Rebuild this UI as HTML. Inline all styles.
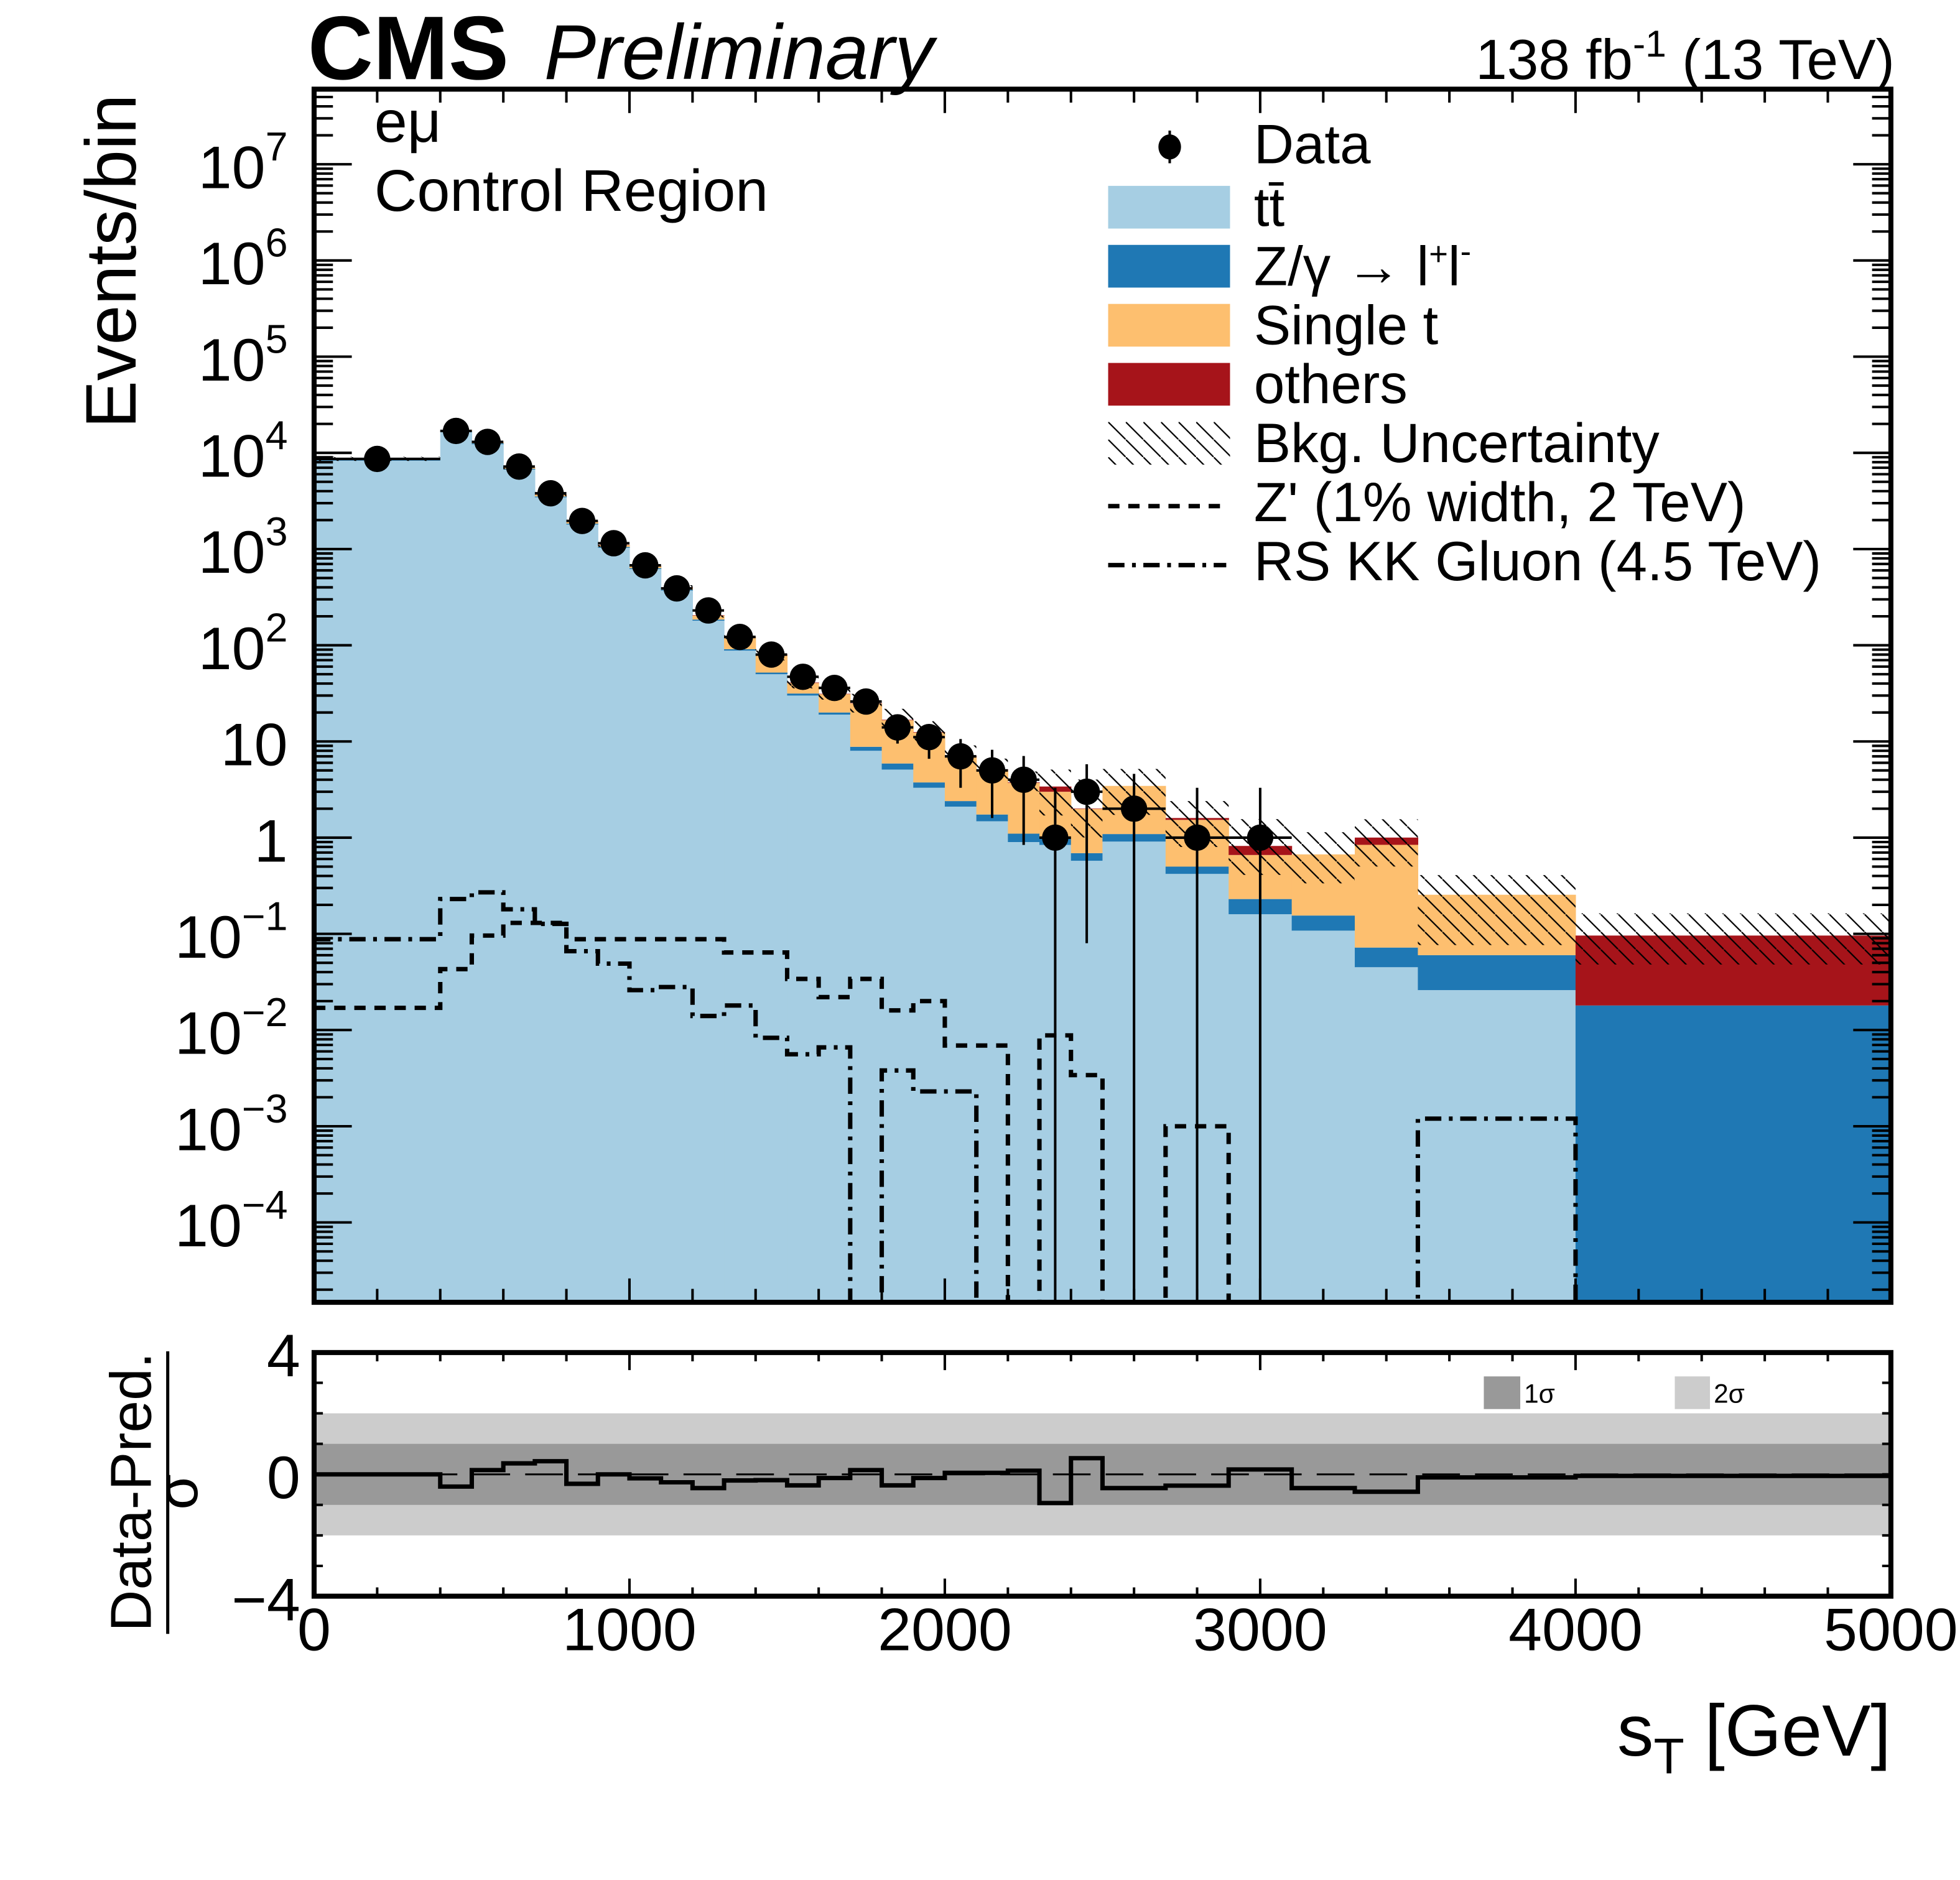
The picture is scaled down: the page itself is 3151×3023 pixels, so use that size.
<!DOCTYPE html>
<html><head><meta charset="utf-8"><style>
html,body{margin:0;padding:0;background:#fff;}
svg{display:block;font-family:"Liberation Sans",Arial,sans-serif;}
</style></head><body>
<svg id="chart" width="3151" height="3023" viewBox="0 0 1560 1497" preserveAspectRatio="none" xmlns="http://www.w3.org/2000/svg">
<defs>
<pattern id="hatch" patternUnits="userSpaceOnUse" width="14" height="14">
<line x1="-2" y1="-2" x2="16" y2="16" stroke="#000" stroke-width="1.1"/>
</pattern>
<clipPath id="mainClip"><rect x="250" y="71" width="1255" height="966"/></clipPath>
<clipPath id="lowClip"><rect x="250" y="1077" width="1255" height="194"/></clipPath>
</defs>
<g id="mainG" clip-path="url(#mainClip)"></g>
<g id="lowG" clip-path="url(#lowClip)"></g>
<g id="axG"></g>

<text x="245" y="63" font-size="72" font-weight="bold">CMS</text>
<text x="433" y="63" font-size="62" font-style="italic">Preliminary</text>
<text x="1508" y="63" font-size="45" text-anchor="end">138 fb<tspan dy="-18" font-size="30">-1</tspan><tspan dy="18"> (13 TeV)</tspan></text>
<text x="298" y="113" font-size="47">eμ</text>
<text x="298" y="168" font-size="47">Control Region</text>
<text transform="translate(108,75) rotate(-90)" font-size="57" text-anchor="end">Events/bin</text>
<text x="1505" y="1398" font-size="58" text-anchor="end">s<tspan dy="14" font-size="40">T</tspan><tspan dy="-14"> [GeV]</tspan></text>
<g>
<text transform="translate(120,1188) rotate(-90)" font-size="46" text-anchor="middle">Data-Pred.</text>
<line x1="133.5" y1="1076" x2="133.5" y2="1301" stroke="#000" stroke-width="2.5"/>
<text transform="translate(157,1188) rotate(-90)" font-size="46" text-anchor="middle">σ</text>
</g>

<g>
<g>
<line x1="931" y1="104" x2="931" y2="130" stroke="#000" stroke-width="2"/>
<ellipse cx="931" cy="117" rx="9" ry="10" fill="#000"/>
<text x="998" y="130" font-size="44">Data</text></g>
<g>
<rect x="882" y="148" width="97" height="34" fill="#a6cee3"/>
<text x="998" y="180" font-size="44">tt̄</text></g>
<g>
<rect x="882" y="195" width="97" height="34" fill="#1f78b4"/>
<text x="998" y="227" font-size="44">Z/γ  → l<tspan dy="-16" font-size="26">+</tspan><tspan dy="16">l</tspan><tspan dy="-18" font-size="26">-</tspan></text></g>
<g>
<rect x="882" y="242" width="97" height="34" fill="#fdbf6f"/>
<text x="998" y="274" font-size="44">Single t</text></g>
<g>
<rect x="882" y="289" width="97" height="34" fill="#a6141a"/>
<text x="998" y="321" font-size="44">others</text></g>
<g>
<rect x="882" y="336" width="97" height="34" fill="url(#hatch)"/>
<text x="998" y="368" font-size="44">Bkg. Uncertainty</text></g>
<g>
<line x1="882" y1="403" x2="976" y2="403" stroke="#000" stroke-width="3.5" stroke-dasharray="9,7"/>
<text x="998" y="415" font-size="44">Z' (1% width, 2 TeV)</text></g>
<g>
<line x1="882" y1="450" x2="976" y2="450" stroke="#000" stroke-width="3.5" stroke-dasharray="13,6,3,6"/>
<text x="998" y="462" font-size="44">RS KK Gluon (4.5 TeV)</text></g>
</g>
<g>
<rect x="1181" y="1096" width="29" height="26" fill="#999999"/>
<text x="1213" y="1117" font-size="21">1σ</text>
<rect x="1333" y="1096" width="28" height="26" fill="#cccccc"/>
<text x="1364" y="1117" font-size="21">2σ</text>
</g>
</svg>
<script>
const binEdges = [0,400,500,600,700,800,900,1000,1100,1200,1300,1400,1500,1600,1700,1800,1900,2000,2100,2200,2300,2400,2500,2700,2900,3100,3300,3500,4000,5000];
const ttbar = [8300,16500,12300,6700,3450,1800,1030,620,370,180,88,50,30,19,8,5.1,3.3,2.1,1.48,0.9,0.84,0.575,0.91,0.42,0.16,0.108,0.045,0.026,0];
const dyll = [150,300,250,140,70,40,22,13,8,5,3,2,1.5,1,0.8,0.8,0.45,0.3,0.26,0.2,0.16,0.115,0.18,0.08,0.07,0.047,0.027,0.034,0.018];
const singleTop = [200,500,400,250,150,90,50,32,20,18,30,27,9,11,16,10.7,8.6,4.5,3.3,2.6,2.0,1.3,2.36,1.03,0.43,0.515,0.77,0.195,0];
const others = [30,60,50,30,20,10,6,4,3,2,1,1,0.5,0.3,0.2,0.2,0.15,0.1,0.06,0.05,0.4,0.02,0,0.07,0.16,0,0.16,0,0.078];
const uncUpRel = [0.05,0.05,0.05,0.05,0.05,0.05,0.05,0.05,0.05,0.05,0.05,0.15,0.15,0.15,0.25,0.3,0.3,0.3,0.3,0.3,0.5,1.0,0.5,0.5,0.9,0.7,0.55,0.6,0.7];
const uncDnRel = [0.05,0.05,0.05,0.05,0.05,0.05,0.05,0.05,0.05,0.05,0.05,0.13,0.13,0.13,0.2,0.2,0.2,0.2,0.2,0.2,0.5,0.5,0.5,0.5,0.5,0.5,0.5,0.7,0.5];
const zprime = [0.017,0.043,0.096,0.13,0.13,0.088,0.088,0.088,0.088,0.088,0.064,0.064,0.034,0.022,0.034,0.016,0.02,0.0069,0.0069,0,0.0088,0.0034,0,0.001,0,0,0,0,0];
const rsGluon = [0.088,0.23,0.27,0.18,0.127,0.066,0.049,0.026,0.028,0.014,0.018,0.0083,0.0056,0.0066,0,0.0038,0.0023,0.0023,0,0,0,0,0,0,0,0,0,0.0012,0];
const dataX = [200,450,550,650,750,850,950,1050,1150,1250,1350,1450,1550,1650,1750,1850,1950,2050,2150,2250,2350,2450,2600,2800,3000];
const dataXErr = [200,50,50,50,50,50,50,50,50,50,50,50,50,50,50,50,50,50,50,50,50,50,100,100,100];
const dataY = [8650,16900,13000,7200,3800,1960,1150,677,390,230,122,80,47,36,26,14,11.1,7,5,4,1,3,2,1,1];
const dataHi = [8740,17030,13110,7280,3860,2000,1180,703,410,245,133,89,54,42,31,19,15,10.6,8.2,7.06,3.3,5.8,4.6,3.3,3.3];
const dataLo = [8560,16770,12890,7120,3740,1920,1120,651,370,215,111,71,40,30,21,9.5,6.6,3.3,1.6,0.84,0.000001,0.08,0.000001,0.000001,0.000001];
const pulls = [0,-0.4,0.14,0.36,0.43,-0.31,0,-0.13,-0.26,-0.45,-0.2,-0.19,-0.36,-0.12,0.14,-0.36,-0.12,0.05,0.05,0.12,-0.94,0.53,-0.45,-0.37,0.16,-0.45,-0.57,-0.1,-0.05];
const xTicks = [0,1000,2000,3000,4000,5000];
const yDecades = [-4,-3,-2,-1,0,1,2,3,4,5,6,7];
const pullTicks = [-4,0,4];

var NS="http://www.w3.org/2000/svg";
var X0=250,X1=1505,YT=71,YB=1037,LT=1077,LB=1271;
function xs(v){return X0+(v/5000)*(X1-X0);}
function ys(v){ if(v<=1e-6) return YB+20; return 667-76.6*Math.log10(v); }
function yp(v){return 1174-v*24.3;}
function mk(tag,attrs,parent){var e=document.createElementNS(NS,tag);for(var k in attrs)e.setAttribute(k,attrs[k]);parent.appendChild(e);return e;}
var mainG=document.getElementById('mainG'),lowG=document.getElementById('lowG'),axG=document.getElementById('axG');

var comps=[[ttbar,'#a6cee3','ttbar'],[dyll,'#1f78b4','dy'],[singleTop,'#fdbf6f','single-top'],[others,'#a6141a','others']];
for(var i=0;i<ttbar.length;i++){
  var cum=0;
  var xa=xs(binEdges[i]),xb=xs(binEdges[i+1]);
  for(var c=0;c<comps.length;c++){
    var arr=comps[c][0],col=comps[c][1],nm=comps[c][2];
    var lo=cum; cum+=arr[i];
    if(arr[i]<=0) continue;
    var y1=ys(cum), y0=ys(lo);
    var r=mk('rect',{x:xa,y:y1,width:xb-xa+0.3,height:Math.max(0,y0-y1),fill:col},mainG);
    
    
  }
  var hu=ys(cum*(1+uncUpRel[i])), hd=ys(cum*(1-uncDnRel[i]));
  var h=mk('rect',{x:xa,y:hu,width:xb-xa,height:Math.max(0,hd-hu),fill:'url(#hatch)'},mainG);
  
  
}
function stepPath(vals){
  var d='M'+xs(binEdges[0])+','+ys(vals[0]);
  for(var i=0;i<vals.length;i++){
    d+=' L'+xs(binEdges[i])+','+ys(vals[i])+' L'+xs(binEdges[i+1])+','+ys(vals[i]);
  }
  return d;
}
var zp=mk('path',{d:stepPath(zprime),fill:'none',stroke:'#000','stroke-width':3.5,'stroke-dasharray':'9,7'},mainG);


var rs=mk('path',{d:stepPath(rsGluon),fill:'none',stroke:'#000','stroke-width':3.5,'stroke-dasharray':'13,6,3,6'},mainG);


for(var i=0;i<dataX.length;i++){
  var cx=xs(dataX[i]),cy=ys(dataY[i]);
  var g=mk('g',{},mainG);
  
  
  mk('line',{x1:xs(dataX[i]-dataXErr[i]),x2:xs(dataX[i]+dataXErr[i]),y1:cy,y2:cy,stroke:'#000','stroke-width':2},g);
  mk('line',{x1:cx,x2:cx,y1:ys(dataHi[i]),y2:ys(dataLo[i]),stroke:'#000','stroke-width':2},g);
  mk('circle',{cx:cx,cy:cy,r:10.5,fill:'#000'},g);
}
var b2=mk('rect',{x:X0,y:yp(2),width:X1-X0,height:yp(-2)-yp(2),fill:'#cccccc'},lowG);


var b1=mk('rect',{x:X0,y:yp(1),width:X1-X0,height:yp(-1)-yp(1),fill:'#999999'},lowG);


var zl=mk('line',{x1:X0,x2:X1,y1:yp(0),y2:yp(0),stroke:'#000','stroke-width':1.5,'stroke-dasharray':'30,12'},lowG);


var pd='';
for(var i=0;i<pulls.length;i++){pd+=(i?' L':'M')+xs(binEdges[i])+','+yp(pulls[i])+' L'+xs(binEdges[i+1])+','+yp(pulls[i]);}
var pl=mk('path',{d:pd,fill:'none',stroke:'#000','stroke-width':3.5},lowG);



var frames=[[YT,YB,'main-frame'],[LT,LB,'pull-frame']];
for(var f=0;f<frames.length;f++){
  var fr=mk('rect',{x:X0,y:frames[f][0],width:X1-X0,height:frames[f][1]-frames[f][0],fill:'none',stroke:'#000','stroke-width':4},axG);
  
  
}
for(var v=0;v<=5000;v+=200){
  var x=xs(v), maj=(v%1000===0);
  var lm=maj?19:10.7, ll=maj?14:7;
  mk('line',{x1:x,x2:x,y1:YB,y2:YB-lm,stroke:'#000','stroke-width':2},axG);
  mk('line',{x1:x,x2:x,y1:YT,y2:YT+lm,stroke:'#000','stroke-width':2},axG);
  mk('line',{x1:x,x2:x,y1:LB,y2:LB-ll,stroke:'#000','stroke-width':2},axG);
  mk('line',{x1:x,x2:x,y1:LT,y2:LT+ll,stroke:'#000','stroke-width':2},axG);
}
for(var k=0;k<xTicks.length;k++){
  var t=mk('text',{x:xs(xTicks[k]),y:1314,'font-size':48,'text-anchor':'middle'},axG);
  t.textContent=String(xTicks[k]);
  
  
}
for(var e=-5;e<=7;e++){
  for(var m=1;m<10;m++){
    var y=ys(m*Math.pow(10,e));
    if(y<YT||y>YB) continue;
    var len=(m===1)?30:15;
    mk('line',{x1:X0,x2:X0+len,y1:y,y2:y,stroke:'#000','stroke-width':2},axG);
    mk('line',{x1:X1,x2:X1-len,y1:y,y2:y,stroke:'#000','stroke-width':2},axG);
  }
}
for(var k=0;k<yDecades.length;k++){
  var e=yDecades[k];
  var t=mk('text',{x:229,y:ys(Math.pow(10,e))+19,'font-size':48,'text-anchor':'end'},axG);
  
  
  if(e>=0&&e<=1){ t.textContent=String(Math.pow(10,e)); }
  else{
    t.appendChild(document.createTextNode('10'));
    var s=document.createElementNS(NS,'tspan');
    s.setAttribute('dy','-22');s.setAttribute('font-size','32');
    s.textContent=(e<0?'\u2212':'')+Math.abs(e);
    t.appendChild(s);
  }
}
for(var v=-4;v<=4;v+=1){
  var y=yp(v);
  mk('line',{x1:X0,x2:X0+7,y1:y,y2:y,stroke:'#000','stroke-width':2},axG);
  mk('line',{x1:X1,x2:X1-7,y1:y,y2:y,stroke:'#000','stroke-width':2},axG);
}
for(var k=0;k<pullTicks.length;k++){
  var v=pullTicks[k];
  var t=mk('text',{x:239,y:yp(v)+19,'font-size':48,'text-anchor':'end'},axG);
  t.textContent=(v<0?'\u2212':'')+Math.abs(v);
  
  
}
</script>
</body></html>
